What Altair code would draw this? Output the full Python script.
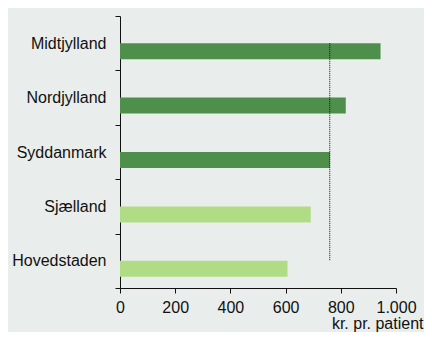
import altair as alt
import pandas as pd

regions = ["Midtjylland", "Nordjylland", "Syddanmark", "Sjælland", "Hovedstaden"]
values = [944, 818, 761, 691, 607]
groups = ["over", "over", "over", "under", "under"]
average = 760
x_ticks = [0, 200, 400, 600, 800, 1000]

df = pd.DataFrame({"region": regions, "value": values, "group": groups})
avg_df = pd.DataFrame({"avg": [average], "top": [regions[0]], "bottom": [regions[-1]]})

font = "Liberation Sans"
fs = 16

y_enc = alt.Y(
    "region:N",
    sort=regions,
    title=None,
    scale=alt.Scale(domain=regions, paddingInner=0, paddingOuter=0),
    axis=alt.Axis(
        tickBand="extent",
        tickSize=5,
        labelPadding=9,
        labelFontSize=fs,
        labelFont=font,
        labelColor="#111",
        domainColor="#111",
        tickColor="#111",
    ),
)

bars = alt.Chart(df).mark_bar(size=16, yOffset=8).encode(
    x=alt.X(
        "value:Q",
        scale=alt.Scale(domain=[0, 1000], nice=False),
        axis=alt.Axis(
            values=x_ticks,
            labelExpr="datum.value == 1000 ? '1.000' : datum.label",
            labelFlush=False,
            tickSize=5,
            labelPadding=6,
            labelFontSize=fs,
            labelFont=font,
            labelColor="#111",
            domainColor="#111",
            tickColor="#111",
            grid=False,
            title="kr. pr. patient",
            titleFont=font,
            titleFontSize=fs,
            titleFontWeight="normal",
            titleColor="#111",
            titleAlign="right",
            titleBaseline="alphabetic",
            titleX=303,
            titleY=40,
        ),
    ),
    y=y_enc,
    color=alt.Color(
        "group:N",
        scale=alt.Scale(domain=["over", "under"], range=["#4f8f4c", "#b1dc86"]),
        legend=None,
    ),
)

rule = alt.Chart(avg_df).mark_rule(color="#111", strokeDash=[1, 1], strokeWidth=1).encode(
    x="avg:Q",
    y=alt.Y("top:N", sort=regions),
    y2="bottom:N",
)

chart = (
    alt.layer(bars, rule)
    .properties(
        width=276,
        height=272,
        background="#e9eeec",
        padding={"left": 112, "top": 8, "right": 28, "bottom": 44},
        autosize=alt.AutoSizeParams(type="none"),
    )
    .configure_view(stroke=None)
    .configure_axis(grid=False)
)

chart.save("out.html", embed_options={"renderer": "svg", "actions": False})
